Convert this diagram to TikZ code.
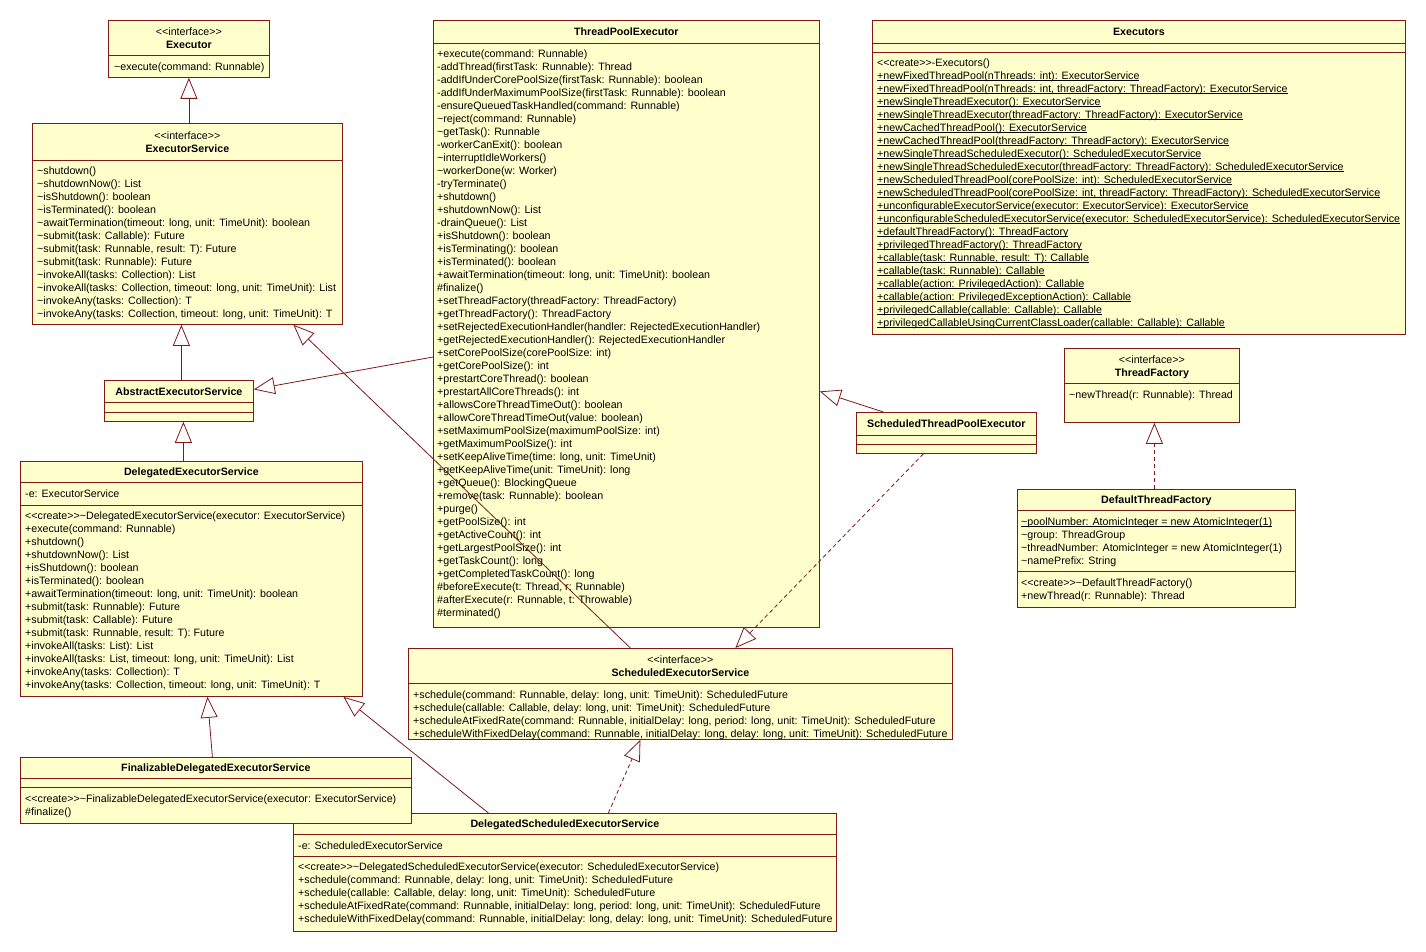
\documentclass[tikz,border=0pt]{standalone}
\usepackage{fontspec}
\setmainfont{Liberation Sans}
\usetikzlibrary{arrows.meta,calc}
\definecolor{clsfill}{RGB}{255,255,204}
\definecolor{clsline}{RGB}{128,24,24}
\newcommand\LL{<\kern0pt<}
\newcommand\GG{>\kern0pt>}
\newcommand\tl{\textasciitilde}
\newsavebox\ulbox
\newcommand\ul[1]{\sbox\ulbox{#1}\rlap{\vrule height -1pt depth 1.8pt width \wd\ulbox}\usebox\ulbox}
\newcommand\mlines[3]{\foreach \t [count=\i from 0] in {#3} {\node[txt] at (#1,{#2+13*\i}) {\t};}}
\begin{document}
\begin{tikzpicture}[x=1pt,y=-1pt, font=\fontsize{10.68}{13}\selectfont,
 cls/.style={draw=clsline, fill=clsfill, line width=0.8pt, anchor=north west, inner sep=0pt},
 sep/.style={draw=clsline, line width=0.8pt},
 txt/.style={anchor=mid west, inner sep=0pt, yshift=-1.6pt},
 ttl/.style={anchor=mid, inner sep=0pt, yshift=-1.6pt, font=\fontsize{10.68}{13}\selectfont\bfseries},
 ster/.style={anchor=mid, inner sep=0pt, yshift=-1.6pt},
 gen/.style={draw=clsline, line width=0.8pt, -{Triangle[open,length=21pt,width=17pt]}},
 real/.style={gen, dash pattern=on 4pt off 3pt}]
\fill[white] (0,0) rectangle (1426,952);
\useasboundingbox (0,0) rectangle (1426,952);
% boxes
\node[cls, minimum width=161pt, minimum height=57pt] (exec) at (108,20) {};
\node[cls, minimum width=310pt, minimum height=201pt] (es) at (32,123) {};
\node[cls, minimum width=149pt, minimum height=41pt] (abs) at (104,380) {};
\node[cls, minimum width=342pt, minimum height=235pt] (des) at (20,461) {};
\node[cls, minimum width=386pt, minimum height=607pt] (tpe) at (433,20) {};
\node[cls, minimum width=533pt, minimum height=314pt] (exs) at (872,20) {};
\node[cls, minimum width=175pt, minimum height=74pt] (tf) at (1064,348) {};
\node[cls, minimum width=278pt, minimum height=118pt] (dtf) at (1017,489) {};
\node[cls, minimum width=180pt, minimum height=41pt] (stpe) at (856,412) {};
\node[cls, minimum width=544pt, minimum height=91pt] (ses) at (408,648) {};
\node[cls, minimum width=543pt, minimum height=118pt] (dses) at (293,813) {};
\node[cls, minimum width=391pt, minimum height=66pt] (fin) at (20,757) {};
% separators
\draw[sep] (exec.west |- 0,55) -- (exec.east |- 0,55);
\draw[sep] (es.west |- 0,160) -- (es.east |- 0,160);
\draw[sep] (abs.west |- 0,402) -- (abs.east |- 0,402);
\draw[sep] (abs.west |- 0,412) -- (abs.east |- 0,412);
\draw[sep] (des.west |- 0,482) -- (des.east |- 0,482);
\draw[sep] (des.west |- 0,505) -- (des.east |- 0,505);
\draw[sep] (tpe.west |- 0,43) -- (tpe.east |- 0,43);
\draw[sep] (exs.west |- 0,43) -- (exs.east |- 0,43);
\draw[sep] (exs.west |- 0,52) -- (exs.east |- 0,52);
\draw[sep] (tf.west |- 0,383) -- (tf.east |- 0,383);
\draw[sep] (dtf.west |- 0,510) -- (dtf.east |- 0,510);
\draw[sep] (dtf.west |- 0,571) -- (dtf.east |- 0,571);
\draw[sep] (stpe.west |- 0,435) -- (stpe.east |- 0,435);
\draw[sep] (stpe.west |- 0,444) -- (stpe.east |- 0,444);
\draw[sep] (ses.west |- 0,683) -- (ses.east |- 0,683);
\draw[sep] (fin.west |- 0,778) -- (fin.east |- 0,778);
\draw[sep] (fin.west |- 0,787) -- (fin.east |- 0,787);
\draw[sep] (dses.west |- 0,834) -- (dses.east |- 0,834);
\draw[sep] (dses.west |- 0,856) -- (dses.east |- 0,856);
% Executor
\node[ster] (execst) at (exec.north |- 0,31) {\LL interface\GG};
\node[ttl] (execnm) at (exec.north |- 0,44) {Executor};
\node[txt] (execm) at (114,66) {\tl execute(command: Runnable)};
% ExecutorService
\node[ster] (esst) at (es.north |- 0,135) {\LL interface\GG};
\node[ttl] (esnm) at (es.north |- 0,148) {ExecutorService};
\mlines{37}{170}{{\tl shutdown()},{\tl shutdownNow(): List},{\tl isShutdown(): boolean},{\tl isTerminated(): boolean},{\tl awaitTermination(timeout: long, unit: TimeUnit): boolean},{\tl submit(task: Callable): Future},{\tl submit(task: Runnable, result: T): Future},{\tl submit(task: Runnable): Future},{\tl invokeAll(tasks: Collection): List},{\tl invokeAll(tasks: Collection, timeout: long, unit: TimeUnit): List},{\tl invokeAny(tasks: Collection): T},{\tl invokeAny(tasks: Collection, timeout: long, unit: TimeUnit): T}}
% AbstractExecutorService
\node[ttl] (absnm) at (abs.north |- 0,391) {AbstractExecutorService};
% DelegatedExecutorService
\node[ttl] (desnm) at (des.north |- 0,471) {DelegatedExecutorService};
\node[txt] (desa) at (25,493) {-e: ExecutorService};
\mlines{25}{515}{{\LL create\GG\tl DelegatedExecutorService(executor: ExecutorService)},{+execute(command: Runnable)},{+shutdown()},{+shutdownNow(): List},{+isShutdown(): boolean},{+isTerminated(): boolean},{+awaitTermination(timeout: long, unit: TimeUnit): boolean},{+submit(task: Runnable): Future},{+submit(task: Callable): Future},{+submit(task: Runnable, result: T): Future},{+invokeAll(tasks: List): List},{+invokeAll(tasks: List, timeout: long, unit: TimeUnit): List},{+invokeAny(tasks: Collection): T},{+invokeAny(tasks: Collection, timeout: long, unit: TimeUnit): T}}
% ThreadPoolExecutor
\node[ttl] (tpenm) at (tpe.north |- 0,31) {ThreadPoolExecutor};
\mlines{437}{53}{{+execute(command: Runnable)},{-addThread(firstTask: Runnable): Thread},{-addIfUnderCorePoolSize(firstTask: Runnable): boolean},{-addIfUnderMaximumPoolSize(firstTask: Runnable): boolean},{-ensureQueuedTaskHandled(command: Runnable)},{\tl reject(command: Runnable)},{\tl getTask(): Runnable},{-workerCanExit(): boolean},{\tl interruptIdleWorkers()},{\tl workerDone(w: Worker)},{-tryTerminate()},{+shutdown()},{+shutdownNow(): List},{-drainQueue(): List},{+isShutdown(): boolean},{+isTerminating(): boolean},{+isTerminated(): boolean},{+awaitTermination(timeout: long, unit: TimeUnit): boolean},{\#finalize()},{+setThreadFactory(threadFactory: ThreadFactory)},{+getThreadFactory(): ThreadFactory},{+setRejectedExecutionHandler(handler: RejectedExecutionHandler)},{+getRejectedExecutionHandler(): RejectedExecutionHandler},{+setCorePoolSize(corePoolSize: int)},{+getCorePoolSize(): int},{+prestartCoreThread(): boolean},{+prestartAllCoreThreads(): int},{+allowsCoreThreadTimeOut(): boolean},{+allowCoreThreadTimeOut(value: boolean)},{+setMaximumPoolSize(maximumPoolSize: int)},{+getMaximumPoolSize(): int},{+setKeepAliveTime(time: long, unit: TimeUnit)},{+getKeepAliveTime(unit: TimeUnit): long},{+getQueue(): BlockingQueue},{+remove(task: Runnable): boolean},{+purge()},{+getPoolSize(): int},{+getActiveCount(): int},{+getLargestPoolSize(): int},{+getTaskCount(): long},{+getCompletedTaskCount(): long},{\#beforeExecute(t: Thread, r: Runnable)},{\#afterExecute(r: Runnable, t: Throwable)},{\#terminated()}}
% Executors
\node[ttl] (exsnm) at (exs.north |- 0,31) {Executors};
\mlines{877}{62}{{\LL create\GG-Executors()},{\ul{+newFixedThreadPool(nThreads: int): ExecutorService}},{\ul{+newFixedThreadPool(nThreads: int, threadFactory: ThreadFactory): ExecutorService}},{\ul{+newSingleThreadExecutor(): ExecutorService}},{\ul{+newSingleThreadExecutor(threadFactory: ThreadFactory): ExecutorService}},{\ul{+newCachedThreadPool(): ExecutorService}},{\ul{+newCachedThreadPool(threadFactory: ThreadFactory): ExecutorService}},{\ul{+newSingleThreadScheduledExecutor(): ScheduledExecutorService}},{\ul{+newSingleThreadScheduledExecutor(threadFactory: ThreadFactory): ScheduledExecutorService}},{\ul{+newScheduledThreadPool(corePoolSize: int): ScheduledExecutorService}},{\ul{+newScheduledThreadPool(corePoolSize: int, threadFactory: ThreadFactory): ScheduledExecutorService}},{\ul{+unconfigurableExecutorService(executor: ExecutorService): ExecutorService}},{\ul{+unconfigurableScheduledExecutorService(executor: ScheduledExecutorService): ScheduledExecutorService}},{\ul{+defaultThreadFactory(): ThreadFactory}},{\ul{+privilegedThreadFactory(): ThreadFactory}},{\ul{+callable(task: Runnable, result: T): Callable}},{\ul{+callable(task: Runnable): Callable}},{\ul{+callable(action: PrivilegedAction): Callable}},{\ul{+callable(action: PrivilegedExceptionAction): Callable}},{\ul{+privilegedCallable(callable: Callable): Callable}},{\ul{+privilegedCallableUsingCurrentClassLoader(callable: Callable): Callable}}}
% ThreadFactory
\node[ster] (tfst) at (tf.north |- 0,359) {\LL interface\GG};
\node[ttl] (tfnm) at (tf.north |- 0,372) {ThreadFactory};
\node[txt] (tfm) at (1069,394) {\tl newThread(r: Runnable): Thread};
% DefaultThreadFactory
\node[ttl] (dtfnm) at (dtf.north |- 0,499) {DefaultThreadFactory};
\mlines{1021}{521}{{\ul{\tl poolNumber: AtomicInteger = new AtomicInteger(1)}},{\tl group: ThreadGroup},{\tl threadNumber: AtomicInteger = new AtomicInteger(1)},{\tl namePrefix: String}}
\mlines{1021}{582}{{\LL create\GG\tl DefaultThreadFactory()},{+newThread(r: Runnable): Thread}}
% ScheduledThreadPoolExecutor
\node[ttl] (stpenm) at (stpe.north |- 0,423) {ScheduledThreadPoolExecutor};
% ScheduledExecutorService
\node[ster] (sesst) at (ses.north |- 0,659) {\LL interface\GG};
\node[ttl] (sesnm) at (ses.north |- 0,672) {ScheduledExecutorService};
\mlines{413}{694}{{+schedule(command: Runnable, delay: long, unit: TimeUnit): ScheduledFuture},{+schedule(callable: Callable, delay: long, unit: TimeUnit): ScheduledFuture},{+scheduleAtFixedRate(command: Runnable, initialDelay: long, period: long, unit: TimeUnit): ScheduledFuture},{+scheduleWithFixedDelay(command: Runnable, initialDelay: long, delay: long, unit: TimeUnit): ScheduledFuture}}
% FinalizableDelegatedExecutorService
\node[ttl] (finnm) at (fin.north |- 0,767) {FinalizableDelegatedExecutorService};
\mlines{25}{798}{{\LL create\GG\tl FinalizableDelegatedExecutorService(executor: ExecutorService)},{\#finalize()}}
% DelegatedScheduledExecutorService
\node[ttl] (dsesnm) at (dses.north |- 0,823) {DelegatedScheduledExecutorService};
\node[txt] (dsesa) at (298,845) {-e: ScheduledExecutorService};
\mlines{298}{866}{{\LL create\GG\tl DelegatedScheduledExecutorService(executor: ScheduledExecutorService)},{+schedule(command: Runnable, delay: long, unit: TimeUnit): ScheduledFuture},{+schedule(callable: Callable, delay: long, unit: TimeUnit): ScheduledFuture},{+scheduleAtFixedRate(command: Runnable, initialDelay: long, period: long, unit: TimeUnit): ScheduledFuture},{+scheduleWithFixedDelay(command: Runnable, initialDelay: long, delay: long, unit: TimeUnit): ScheduledFuture}}
% connectors
\draw[gen] (exec.south |- es.north) -- (exec.south);
\draw[gen] ([xshift=2.5pt]abs.north) -- ([xshift=2.5pt]abs.north |- es.south);
\draw[gen] ([xshift=4.5pt]abs.south |- des.north) -- ([xshift=4.5pt]abs.south);
\draw[gen] (tpe.west |- 0,357) -- ([yshift=11.5pt]abs.east);
\draw[gen] ([xshift=-50pt]ses.north) -- ([xshift=106pt]es.south);
\draw[gen] ([xshift=-63pt]stpe.north) -- ([yshift=-67.5pt]tpe.east);
\draw[real] ([xshift=-23pt]stpe.south) -- ([xshift=55pt]ses.north);
\draw[real] ([xshift=43.5pt]dses.north) -- ([xshift=-40pt]ses.south);
\draw[gen] ([xshift=-76.5pt]dses.north) -- ([xshift=152pt]des.south);
\draw[gen] ([xshift=-3.5pt]fin.north) -- ([xshift=16pt]des.south);
\draw[real] ([xshift=2.5pt]tf.south |- dtf.north) -- ([xshift=2.5pt]tf.south);
\end{tikzpicture}
\end{document}
